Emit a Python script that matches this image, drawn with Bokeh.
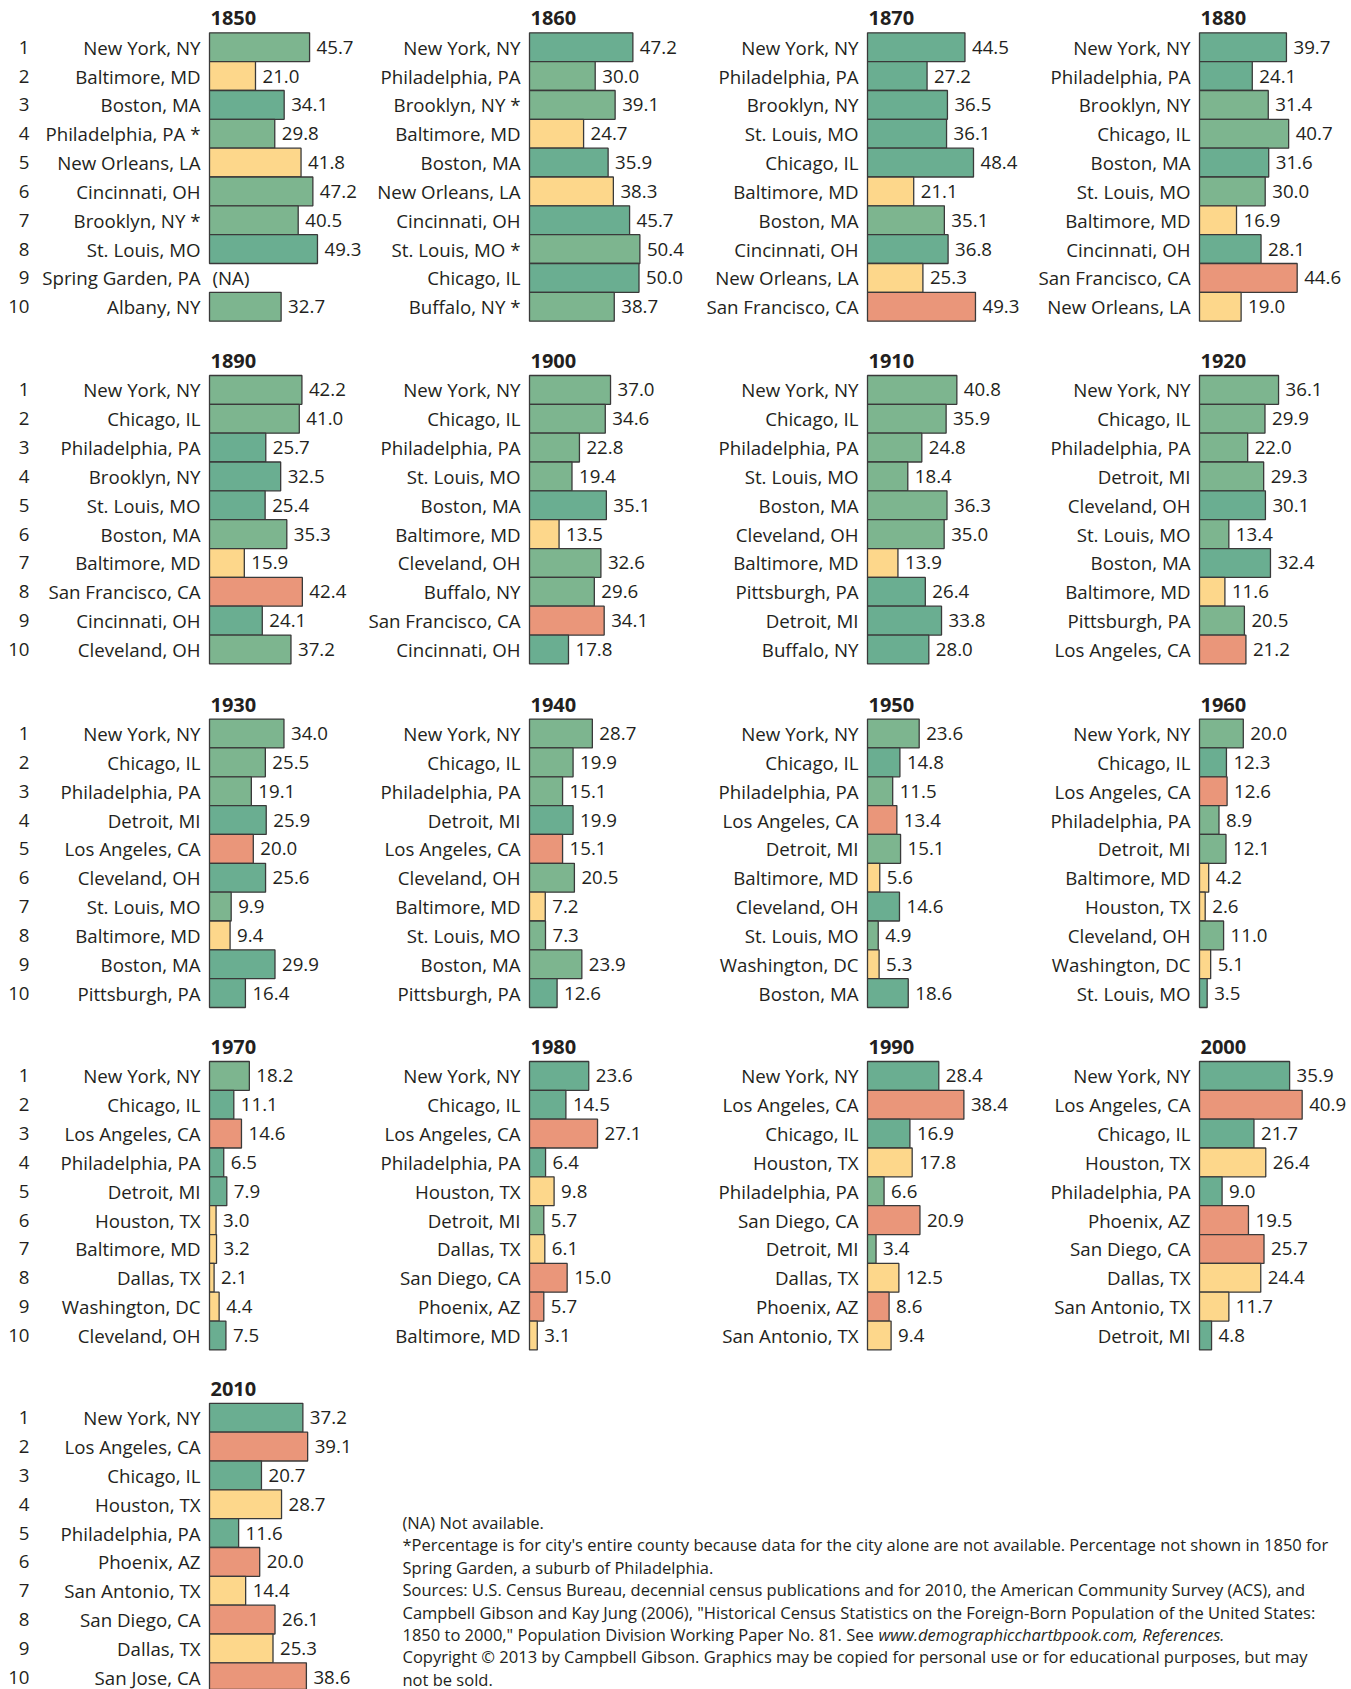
from bokeh.plotting import figure
from bokeh.models import Range1d, Label
from bokeh.layouts import row, column
from bokeh.embed import file_html
from bokeh.resources import INLINE
from bokeh.core.properties import value

# ---------------- data ----------------
YEARS = [1850, 1860, 1870, 1880, 1890, 1900, 1910, 1920, 1930, 1940,
         1950, 1960, 1970, 1980, 1990, 2000, 2010]
RANKS = [1, 2, 3, 4, 5, 6, 7, 8, 9, 10]

cities_1850 = ["New York, NY", "Baltimore, MD", "Boston, MA", "Philadelphia, PA *", "New Orleans, LA",
               "Cincinnati, OH", "Brooklyn, NY *", "St. Louis, MO", "Spring Garden, PA", "Albany, NY"]
values_1850 = [45.7, 21.0, 34.1, 29.8, 41.8, 47.2, 40.5, 49.3, None, 32.7]
region_1850 = ["g1", "s", "g2", "g1", "s", "g1", "g1", "g2", None, "g1"]

cities_1860 = ["New York, NY", "Philadelphia, PA", "Brooklyn, NY *", "Baltimore, MD", "Boston, MA",
               "New Orleans, LA", "Cincinnati, OH", "St. Louis, MO *", "Chicago, IL", "Buffalo, NY *"]
values_1860 = [47.2, 30.0, 39.1, 24.7, 35.9, 38.3, 45.7, 50.4, 50.0, 38.7]
region_1860 = ["g2", "g1", "g1", "s", "g2", "s", "g2", "g1", "g2", "g1"]

cities_1870 = ["New York, NY", "Philadelphia, PA", "Brooklyn, NY", "St. Louis, MO", "Chicago, IL",
               "Baltimore, MD", "Boston, MA", "Cincinnati, OH", "New Orleans, LA", "San Francisco, CA"]
values_1870 = [44.5, 27.2, 36.5, 36.1, 48.4, 21.1, 35.1, 36.8, 25.3, 49.3]
region_1870 = ["g2", "g2", "g2", "g2", "g2", "s", "g1", "g2", "s", "w"]

cities_1880 = ["New York, NY", "Philadelphia, PA", "Brooklyn, NY", "Chicago, IL", "Boston, MA",
               "St. Louis, MO", "Baltimore, MD", "Cincinnati, OH", "San Francisco, CA", "New Orleans, LA"]
values_1880 = [39.7, 24.1, 31.4, 40.7, 31.6, 30.0, 16.9, 28.1, 44.6, 19.0]
region_1880 = ["g2", "g2", "g1", "g1", "g2", "g1", "s", "g2", "w", "s"]

cities_1890 = ["New York, NY", "Chicago, IL", "Philadelphia, PA", "Brooklyn, NY", "St. Louis, MO",
               "Boston, MA", "Baltimore, MD", "San Francisco, CA", "Cincinnati, OH", "Cleveland, OH"]
values_1890 = [42.2, 41.0, 25.7, 32.5, 25.4, 35.3, 15.9, 42.4, 24.1, 37.2]
region_1890 = ["g1", "g1", "g2", "g2", "g2", "g1", "s", "w", "g2", "g1"]

cities_1900 = ["New York, NY", "Chicago, IL", "Philadelphia, PA", "St. Louis, MO", "Boston, MA",
               "Baltimore, MD", "Cleveland, OH", "Buffalo, NY", "San Francisco, CA", "Cincinnati, OH"]
values_1900 = [37.0, 34.6, 22.8, 19.4, 35.1, 13.5, 32.6, 29.6, 34.1, 17.8]
region_1900 = ["g1", "g1", "g1", "g1", "g2", "s", "g1", "g1", "w", "g2"]

cities_1910 = ["New York, NY", "Chicago, IL", "Philadelphia, PA", "St. Louis, MO", "Boston, MA",
               "Cleveland, OH", "Baltimore, MD", "Pittsburgh, PA", "Detroit, MI", "Buffalo, NY"]
values_1910 = [40.8, 35.9, 24.8, 18.4, 36.3, 35.0, 13.9, 26.4, 33.8, 28.0]
region_1910 = ["g1", "g1", "g1", "g1", "g1", "g1", "s", "g2", "g2", "g2"]

cities_1920 = ["New York, NY", "Chicago, IL", "Philadelphia, PA", "Detroit, MI", "Cleveland, OH",
               "St. Louis, MO", "Boston, MA", "Baltimore, MD", "Pittsburgh, PA", "Los Angeles, CA"]
values_1920 = [36.1, 29.9, 22.0, 29.3, 30.1, 13.4, 32.4, 11.6, 20.5, 21.2]
region_1920 = ["g1", "g1", "g1", "g1", "g2", "g1", "g2", "s", "g1", "w"]

cities_1930 = ["New York, NY", "Chicago, IL", "Philadelphia, PA", "Detroit, MI", "Los Angeles, CA",
               "Cleveland, OH", "St. Louis, MO", "Baltimore, MD", "Boston, MA", "Pittsburgh, PA"]
values_1930 = [34.0, 25.5, 19.1, 25.9, 20.0, 25.6, 9.9, 9.4, 29.9, 16.4]
region_1930 = ["g1", "g1", "g1", "g2", "w", "g2", "g1", "s", "g2", "g2"]

cities_1940 = ["New York, NY", "Chicago, IL", "Philadelphia, PA", "Detroit, MI", "Los Angeles, CA",
               "Cleveland, OH", "Baltimore, MD", "St. Louis, MO", "Boston, MA", "Pittsburgh, PA"]
values_1940 = [28.7, 19.9, 15.1, 19.9, 15.1, 20.5, 7.2, 7.3, 23.9, 12.6]
region_1940 = ["g1", "g1", "g1", "g2", "w", "g1", "s", "g1", "g1", "g2"]

cities_1950 = ["New York, NY", "Chicago, IL", "Philadelphia, PA", "Los Angeles, CA", "Detroit, MI",
               "Baltimore, MD", "Cleveland, OH", "St. Louis, MO", "Washington, DC", "Boston, MA"]
values_1950 = [23.6, 14.8, 11.5, 13.4, 15.1, 5.6, 14.6, 4.9, 5.3, 18.6]
region_1950 = ["g1", "g2", "g1", "w", "g1", "s", "g2", "g1", "s", "g2"]

cities_1960 = ["New York, NY", "Chicago, IL", "Los Angeles, CA", "Philadelphia, PA", "Detroit, MI",
               "Baltimore, MD", "Houston, TX", "Cleveland, OH", "Washington, DC", "St. Louis, MO"]
values_1960 = [20.0, 12.3, 12.6, 8.9, 12.1, 4.2, 2.6, 11.0, 5.1, 3.5]
region_1960 = ["g1", "g2", "w", "g1", "g1", "s", "s", "g1", "s", "g2"]

cities_1970 = ["New York, NY", "Chicago, IL", "Los Angeles, CA", "Philadelphia, PA", "Detroit, MI",
               "Houston, TX", "Baltimore, MD", "Dallas, TX", "Washington, DC", "Cleveland, OH"]
values_1970 = [18.2, 11.1, 14.6, 6.5, 7.9, 3.0, 3.2, 2.1, 4.4, 7.5]
region_1970 = ["g1", "g2", "w", "g2", "g2", "s", "s", "s", "s", "g2"]

cities_1980 = ["New York, NY", "Chicago, IL", "Los Angeles, CA", "Philadelphia, PA", "Houston, TX",
               "Detroit, MI", "Dallas, TX", "San Diego, CA", "Phoenix, AZ", "Baltimore, MD"]
values_1980 = [23.6, 14.5, 27.1, 6.4, 9.8, 5.7, 6.1, 15.0, 5.7, 3.1]
region_1980 = ["g2", "g2", "w", "g2", "s", "g1", "s", "w", "w", "s"]

cities_1990 = ["New York, NY", "Los Angeles, CA", "Chicago, IL", "Houston, TX", "Philadelphia, PA",
               "San Diego, CA", "Detroit, MI", "Dallas, TX", "Phoenix, AZ", "San Antonio, TX"]
values_1990 = [28.4, 38.4, 16.9, 17.8, 6.6, 20.9, 3.4, 12.5, 8.6, 9.4]
region_1990 = ["g2", "w", "g2", "s", "g1", "w", "g1", "s", "w", "s"]

cities_2000 = ["New York, NY", "Los Angeles, CA", "Chicago, IL", "Houston, TX", "Philadelphia, PA",
               "Phoenix, AZ", "San Diego, CA", "Dallas, TX", "San Antonio, TX", "Detroit, MI"]
values_2000 = [35.9, 40.9, 21.7, 26.4, 9.0, 19.5, 25.7, 24.4, 11.7, 4.8]
region_2000 = ["g2", "w", "g2", "s", "g2", "w", "w", "s", "s", "g2"]

cities_2010 = ["New York, NY", "Los Angeles, CA", "Chicago, IL", "Houston, TX", "Philadelphia, PA",
               "Phoenix, AZ", "San Antonio, TX", "San Diego, CA", "Dallas, TX", "San Jose, CA"]
values_2010 = [37.2, 39.1, 20.7, 28.7, 11.6, 20.0, 14.4, 26.1, 25.3, 38.6]
region_2010 = ["g2", "w", "g2", "s", "g2", "w", "s", "w", "s", "w"]

NOTE_LINES = [
    "(NA) Not available.",
    "*Percentage is for city's entire county because data for the city alone are not available. Percentage not shown in 1850 for",
    "Spring Garden, a suburb of Philadelphia.",
    "Sources: U.S. Census Bureau, decennial census publications and for 2010, the American Community Survey (ACS), and",
    "Campbell Gibson and Kay Jung (2006), \"Historical Census Statistics on the Foreign-Born Population of the United States:",
    "1850 to 2000,\" Population Division Working Paper No. 81.  See ",
    "Copyright \u00a9 2013 by Campbell Gibson. Graphics may be copied for personal use or for educational purposes, but may",
    "not be sold.",
]
NOTE_ITALIC = "www.demographicchartbpook.com, References."

# ---------------- style / layout ----------------
FONT = "Open Sans"
TXT = "#231F20"
COLORS = {"g1": "#7DB58F", "g2": "#6AAE91", "s": "#FDD78B", "w": "#EA967A"}

COL_W = [365, 332, 335, 319]
BAR_LEFT = [209, 164, 170, 167]
ROW_H = [343, 343, 343, 343, 317]
BAR_TOP = [32.3, 32.0, 32.6, 32.0, 30.8]
ROW_PX = 28.84
FS = "18.7px"

data = {}
for y in YEARS:
    data[y] = (globals()["cities_%d" % y], globals()["values_%d" % y], globals()["region_%d" % y])


def panel(year, col, rowi):
    cities, vals, regs = data[year]
    scale = 2.19 if year <= 1970 else 2.51
    W = COL_W[col]
    H = ROW_H[rowi]
    L = BAR_LEFT[col]
    ytop = 0.5 - BAR_TOP[rowi] / ROW_PX
    ybot = ytop + H / ROW_PX
    p = figure(width=W, height=H, x_range=Range1d(-L / scale, (W - L) / scale),
               y_range=Range1d(ybot, ytop), output_backend="svg", toolbar_location=None,
               x_axis_location=None, y_axis_location=None, min_border=0,
               outline_line_color=None, border_fill_color="white", background_fill_color="white")
    p.grid.visible = False

    bar_rank = [r for r, v in zip(RANKS, vals) if v is not None]
    bar_val = [v for v in vals if v is not None]
    bar_col = [COLORS[c] for c, v in zip(regs, vals) if v is not None]
    p.hbar(y=bar_rank, left=0, right=bar_val, height=1.0, fill_color=bar_col,
           line_color="#3a3a3a", line_width=1.3)

    p.text(x=0, y=RANKS, text=cities, x_offset=-9, text_align="right", text_baseline="middle",
           text_font=value(FONT), text_font_size=FS, text_color=TXT)

    lab_x = [v if v is not None else 0 for v in vals]
    lab_t = ["%.1f" % v if v is not None else "(NA)" for v in vals]
    lab_off = [7 if v is not None else 3 for v in vals]
    p.text(x=lab_x, y=RANKS, text=lab_t, x_offset=lab_off, text_align="left", text_baseline="middle",
           text_font=value(FONT), text_font_size=FS, text_color=TXT)

    if col == 0:
        p.text(x=0, y=RANKS, text=[str(r) for r in RANKS], x_offset=-(L - 29), text_align="right",
               text_baseline="middle", text_font=value(FONT), text_font_size=FS, text_color=TXT)

    p.add_layout(Label(x=0, y=0, text=str(year), x_offset=1, text_baseline="middle",
                       text_font=FONT, text_font_size="20px", text_font_style="bold", text_color=TXT))
    return p


rows = []
for ri in range(5):
    figs = []
    for ci in range(4):
        idx = ri * 4 + ci
        if idx < len(YEARS):
            figs.append(panel(YEARS[idx], ci, ri))
    if ri == 4:
        FW = sum(COL_W[1:])
        FH = ROW_H[4]
        f = figure(width=FW, height=FH, x_range=Range1d(0, FW), y_range=Range1d(FH, 0),
                   output_backend="svg", toolbar_location=None, x_axis_location=None,
                   y_axis_location=None, min_border=0, outline_line_color=None)
        f.grid.visible = False
        y0 = 150
        dy = 22.4
        for i, line in enumerate(NOTE_LINES):
            f.add_layout(Label(x=37, y=y0 + i * dy, text=line, text_baseline="middle",
                               text_font=FONT, text_font_size="16.5px", text_color=TXT))
        f.add_layout(Label(x=513, y=y0 + 5 * dy, text=NOTE_ITALIC, text_baseline="middle",
                           text_font=FONT, text_font_size="16.5px", text_font_style="italic",
                           text_color=TXT))
        figs.append(f)
    rows.append(row(*figs, spacing=0))

layout = column(*rows, spacing=0)
open("out.html", "w").write(file_html(layout, INLINE))
